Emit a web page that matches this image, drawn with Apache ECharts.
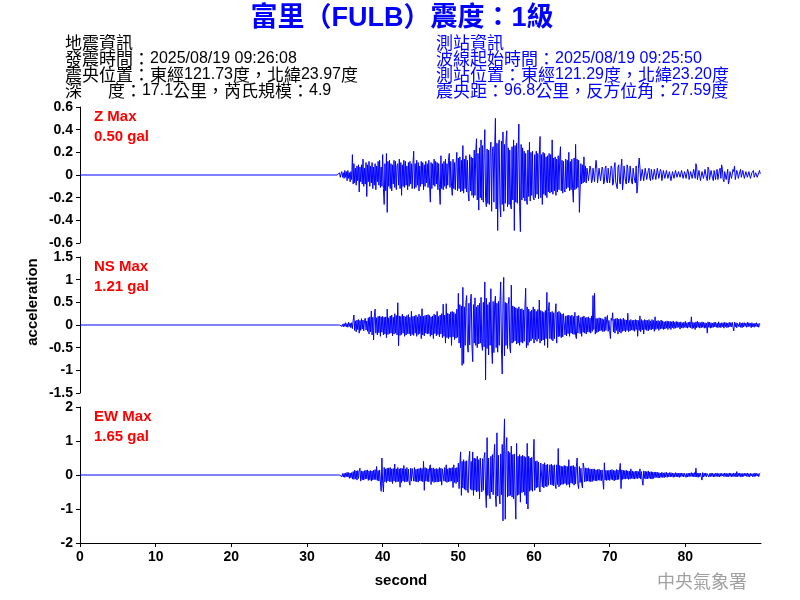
<!DOCTYPE html>
<html><head><meta charset="utf-8">
<script src="https://cdn.jsdelivr.net/npm/echarts@6/dist/echarts.min.js"></script>
<style>html,body{margin:0;padding:0;background:#fff}#c{width:800px;height:600px}</style>
</head><body><div id="c"></div>
<script>
// ---- data ----
const startSecond = 34, sampleStep = 0.1; // samples start at 34 s, one every 0.1 s (one row = 1 s)
const xTickLabels = [0, 10, 20, 30, 40, 50, 60, 70, 80];
const zTicks = [-0.6, -0.4, -0.2, 0, 0.2, 0.4, 0.6];
const nsTicks = [-1.5, -1, -0.5, 0, 0.5, 1, 1.5];
const ewTicks = [-2, -1, 0, 1, 2];
const traceNames = ['Z Max', 'NS Max', 'EW Max'];
const traceMax = ['0.50 gal', '1.21 gal', '1.65 gal'];

const zAcc = [
 0.00, 0.01,-0.01, 0.02,-0.02, 0.01, 0.03,-0.02, 0.02,-0.03,
 0.04,-0.02, 0.03,-0.05, 0.04,-0.03, 0.02,-0.06, 0.03,-0.04,
 0.18,-0.08, 0.10,-0.07, 0.06,-0.09, 0.08,-0.05, 0.09,-0.15,
 0.07,-0.06, 0.09,-0.08, 0.14,-0.10, 0.06,-0.08, 0.11,-0.19,
 0.09,-0.06, 0.12,-0.10, 0.08,-0.07, 0.11,-0.12, 0.07,-0.09,
 0.10,-0.13, 0.08,-0.06, 0.12,-0.09, 0.13,-0.11, 0.07,-0.10,
 0.18,-0.12,-0.26, 0.10,-0.14, 0.19,-0.33, 0.12,-0.10, 0.13,
-0.12, 0.10,-0.14, 0.09,-0.08, 0.13,-0.11, 0.12,-0.13, 0.08,
 0.10,-0.09, 0.14,-0.12, 0.11,-0.18, 0.09,-0.10, 0.13,-0.11,
 0.12,-0.09, 0.08,-0.13, 0.11,-0.10, 0.12,-0.08, 0.10,-0.12,
 0.09, 0.21,-0.12, 0.10,-0.11, 0.13,-0.09, 0.11,-0.14, 0.08,
-0.10, 0.12,-0.08, 0.11,-0.13, 0.09,-0.10, 0.12,-0.07, 0.10,
-0.11, 0.13,-0.09,-0.24, 0.11,-0.12, 0.10,-0.09, 0.14,-0.10,
 0.12,-0.08, 0.11,-0.13, 0.10,-0.11,-0.26, 0.17,-0.12, 0.10,
-0.13, 0.12,-0.10, 0.14,-0.12, 0.10,-0.09, 0.13, 0.19,-0.11,
 0.12,-0.10,-0.18, 0.14,-0.12, 0.11,-0.13, 0.10, 0.20,-0.14,
 0.15,-0.12, 0.16,-0.15, 0.13,-0.14, 0.26,-0.16, 0.14,-0.12,
 0.17,-0.15, 0.13,-0.16,-0.23, 0.18,-0.14, 0.16,-0.18, 0.15,
-0.20, 0.22,-0.18, 0.20, 0.32,-0.22, 0.19,-0.31, 0.24,-0.20,
 0.31,-0.22, 0.26,-0.24, 0.20, 0.40,-0.21,-0.28, 0.23,-0.25,
 0.22,-0.26, 0.20, 0.29,-0.32, 0.21, 0.25,-0.24, 0.22, 0.50,
-0.30, 0.28,-0.49, 0.25, 0.31,-0.27,-0.37, 0.30,-0.26, 0.38,
-0.32, 0.27,-0.25, 0.30, 0.39,-0.28, 0.24,-0.26, 0.22,-0.27,
-0.30, 0.25,-0.22, 0.31,-0.49, 0.26,-0.24, 0.28,-0.25, 0.22,
 0.45,-0.28,-0.50, 0.27,-0.22, 0.24,-0.20, 0.21,-0.23, 0.19,
-0.21,-0.26, 0.22,-0.19, 0.29,-0.23, 0.20,-0.18, 0.21,-0.20,
-0.22, 0.18,-0.20, 0.21,-0.17, 0.19,-0.21, 0.18, 0.34,-0.20,
 0.18,-0.26, 0.20,-0.17, 0.19,-0.18, 0.16,-0.20, 0.17,-0.15,
 0.19,-0.16, 0.18,-0.15, 0.31,-0.17, 0.15,-0.14, 0.16,-0.18,
 0.14,-0.15, 0.17,-0.13, 0.15, 0.25,-0.14, 0.13,-0.16, 0.12,
-0.13,-0.15, 0.14,-0.12, 0.13,-0.11, 0.20,-0.14, 0.12,-0.13,
 0.14,-0.12,-0.24, 0.15,-0.13, 0.27,-0.12, 0.14,-0.11, 0.13,
-0.33,-0.32, 0.10,-0.08, 0.09,-0.07, 0.16,-0.06, 0.08,-0.07,
 0.06, 0.07,-0.05,-0.06, 0.08, 0.05,-0.07,-0.05, 0.06, 0.07,
-0.06, 0.05, 0.13, 0.06,-0.07,-0.08, 0.06, 0.07,-0.05,-0.06,
 0.07, 0.05,-0.08,-0.06, 0.06, 0.08,-0.05,-0.07, 0.06, 0.05,
-0.07,-0.06, 0.08, 0.06,-0.09,-0.07, 0.07, 0.11,-0.06,-0.05,
-0.12, 0.07, 0.09,-0.06,-0.08, 0.07, 0.14,-0.13,-0.06, 0.08,
 0.07,-0.06,-0.08, 0.09, 0.06,-0.07,-0.05, 0.08, 0.07,-0.06,
-0.08, 0.06, 0.07,-0.05,-0.07, 0.08,-0.16,-0.10, 0.06, 0.15,
 0.07,-0.05,-0.06, 0.05, 0.04,-0.05,-0.04, 0.06, 0.05,-0.04,
-0.05, 0.04, 0.06,-0.03,-0.05, 0.05, 0.04,-0.04,-0.03, 0.05,
 0.04,-0.04,-0.05, 0.06, 0.07,-0.03,-0.04, 0.05, 0.03,-0.05,
-0.04, 0.04, 0.05,-0.03,-0.04, 0.04, 0.05,-0.03,-0.04, 0.03,
 0.04,-0.05,-0.04, 0.03, 0.04,-0.03,-0.04, 0.04, 0.03,-0.02,
-0.03, 0.03, 0.04,-0.02,-0.03, 0.04, 0.03,-0.03,-0.02, 0.03,
 0.04,-0.03,-0.04, 0.05, 0.03,-0.04,-0.05, 0.03, 0.04,-0.03,
-0.04, 0.05, 0.04,-0.03, 0.10, 0.07,-0.04,-0.05, 0.04, 0.03,
-0.05,-0.04, 0.03, 0.04,-0.03,-0.04, 0.05, 0.04,-0.03,-0.05,
 0.07, 0.05,-0.04,-0.03, 0.04, 0.05,-0.03,-0.05, 0.04, 0.03,
-0.04, 0.03, 0.05,-0.04,-0.05, 0.04, 0.06,-0.03, 0.09, 0.05,
-0.04,-0.06, 0.03, 0.04,-0.04,-0.03, 0.05,-0.08,-0.05, 0.03,
 0.04,-0.03,-0.04, 0.05, 0.03, 0.08,-0.04,-0.03, 0.04, 0.02,
-0.03,-0.04, 0.03, 0.05,-0.02,-0.03, 0.04, 0.03,-0.03,-0.02,
 0.03, 0.04,-0.02,-0.03, 0.03, 0.02,-0.03,-0.04, 0.02, 0.03,
 0.04,-0.02,-0.03, 0.02, 0.03,-0.02,-0.03, 0.02, 0.04, 0.01
];
const nsAcc = [
 0.00, 0.00, 0.00, 0.00, 0.00, 0.02,-0.03, 0.02,-0.04, 0.03,
-0.03, 0.05,-0.04, 0.03,-0.05, 0.06,-0.03, 0.04,-0.06, 0.05,
-0.08, 0.10, 0.22,-0.12, 0.09,-0.15, 0.11,-0.10, 0.12,-0.18,
 0.10,-0.12, 0.14,-0.09, 0.11,-0.13, 0.10, 0.15,-0.11, 0.09,
-0.14, 0.16,-0.20, 0.18,-0.15, 0.31,-0.22, 0.17,-0.33, 0.20,
 0.35,-0.18, 0.16,-0.22, 0.19,-0.17, 0.20,-0.25, 0.18,-0.16,
 0.19,-0.22, 0.17,-0.20, 0.18,-0.28, 0.35,-0.21, 0.16,-0.19,
 0.20,-0.18, 0.22,-0.24, 0.17,-0.20, 0.25,-0.18, 0.21,-0.22,
 0.49,-0.46, 0.20,-0.23, 0.19,-0.21, 0.24,-0.18, 0.20,-0.25,
 0.18,-0.22, 0.21,-0.19, 0.23,-0.20, 0.17,-0.24, 0.30,-0.21,
 0.19,-0.23, 0.20,-0.18, 0.22,-0.25, 0.18,-0.21, 0.24,-0.19,
 0.20,-0.30, 0.36,-0.22, 0.19,-0.24, 0.21,-0.18, 0.22,-0.20,
 0.23,-0.19, 0.21,-0.25, 0.18,-0.22, 0.20,-0.30, 0.24,-0.19,
 0.22,-0.24, 0.30,-0.21, 0.19,-0.26, 0.22,-0.20, 0.25,-0.28,
 0.46,-0.25, 0.22,-0.40, 0.47,-0.28, 0.26,-0.30, 0.24,-0.27,
 0.29,-0.45, 0.30,-0.26, 0.28,-0.32, 0.25,-0.29, 0.35,-0.27,
 0.70,-0.40, 0.45,-0.50, 0.42,-0.89, 0.83,-0.85, 0.40,-0.45,
 0.50, 0.65,-0.42,-0.60, 0.48,-0.44, 0.52, 0.68,-0.46,-0.81,
 0.45,-0.40, 0.60,-0.45, 0.40,-0.50, 0.44,-0.42, 0.48,-0.40,
 0.61,-0.45,-0.56, 0.50,-0.48, 0.95,-1.21, 0.59,-0.52, 0.45,
-0.66, 0.50,-0.45, 0.80,-0.48,-0.85, 0.52,-0.61, 0.46, 0.64,
-0.50, 0.48,-0.60, 0.52,-0.45, 0.50, 0.95,-0.55,-1.08, 0.48,
 1.05,-0.68, 0.50,-0.45, 0.48,-0.52, 0.45, 0.61,-0.50,-0.62,
 0.88,-0.40, 0.42,-0.38, 0.40,-0.35, 0.38,-0.42, 0.36,-0.40,
 0.40,-0.45, 0.35,-0.38, 0.36,-0.40, 0.33,-0.36, 0.38, 0.81,
-0.50, 0.40,-0.45, 0.35,-0.38, 0.30,-0.35, 0.33,-0.30, 0.40,
-0.40, 0.35,-0.32, 0.30,-0.36, 0.34,-0.30, 0.55,-0.40, 0.32,
-0.35, 0.30,-0.33, 0.28,-0.45, 0.32,-0.30, 0.72,-0.50, 0.30,
 0.50,-0.30, 0.28,-0.32, 0.30,-0.35, 0.27,-0.30, 0.26, 0.47,
-0.40, 0.28,-0.26, 0.30,-0.25, 0.27,-0.28, 0.24,-0.26, 0.25,
 0.25,-0.22, 0.20,-0.24, 0.21,-0.19, 0.22,-0.25, 0.20,-0.18,
 0.22,-0.20, 0.19,-0.21, 0.28,-0.23,-0.30, 0.20,-0.18, 0.21,
 0.20,-0.19, 0.17,-0.25, 0.18,-0.16, 0.20,-0.18, 0.16,-0.20,
 0.17,-0.15, 0.18,-0.16, 0.15,-0.18, 0.20,-0.14, 0.65,-0.10,
 0.70,-0.20, 0.15,-0.17, 0.14,-0.15, 0.16,-0.13, 0.15,-0.12,
 0.14,-0.15, 0.12,-0.14, 0.18,-0.12, 0.13, 0.21,-0.14, 0.10,
-0.12,-0.30, 0.15, 0.10, 0.27,-0.15, 0.13,-0.18, 0.14,-0.12,
 0.15,-0.20, 0.13,-0.15, 0.14,-0.18, 0.12,-0.14, 0.15,-0.13,
 0.12,-0.15, 0.11,-0.12, 0.26,-0.15, 0.10,-0.13, 0.12,-0.11,
 0.10,-0.12, 0.11,-0.14, 0.12,-0.10, 0.11,-0.25, 0.10,-0.12,
 0.20,-0.15, 0.12,-0.11, 0.10,-0.20, 0.12,-0.10, 0.11,-0.12,
 0.10,-0.13, 0.12,-0.10, 0.09,-0.11, 0.12,-0.09, 0.10,-0.14,
 0.18,-0.10, 0.09,-0.08, 0.10,-0.12, 0.08,-0.09, 0.11,-0.08,
 0.09,-0.10, 0.07,-0.09, 0.08,-0.07, 0.09,-0.10, 0.08,-0.07,
 0.08,-0.10, 0.07,-0.06, 0.09,-0.08, 0.06,-0.07, 0.08,-0.06,
 0.07,-0.05, 0.06,-0.09, 0.07,-0.06, 0.05,-0.07, 0.06,-0.05,
 0.08,-0.06, 0.05,-0.07, 0.06,-0.05, 0.07,-0.06, 0.18,-0.08,
 0.06,-0.07, 0.05,-0.10, 0.07,-0.06, 0.08,-0.05, 0.06,-0.07,
 0.05,-0.06, 0.07,-0.05, 0.06,-0.07, 0.05,-0.06, 0.04,-0.18,
 0.07,-0.05, 0.06,-0.07, 0.05,-0.06, 0.04,-0.05, 0.06,-0.04,
 0.06,-0.05, 0.04,-0.06, 0.07,-0.05, 0.04,-0.06, 0.05,-0.04,
 0.05,-0.07, 0.06,-0.04, 0.05,-0.06, 0.04,-0.05, 0.06,-0.04,
 0.05,-0.04, 0.06,-0.05,-0.13, 0.06,-0.04, 0.05,-0.06, 0.04,
 0.05,-0.04, 0.06,-0.05, 0.04,-0.06, 0.05,-0.04, 0.05,-0.03,
 0.04,-0.05, 0.06,-0.04, 0.05,-0.03, 0.04,-0.06, 0.05,-0.04,
 0.03,-0.05, 0.04,-0.03, 0.05,-0.04, 0.03,-0.05, 0.03, 0.02
];
const ewAcc = [
 0.00, 0.00, 0.00, 0.00, 0.00, 0.03,-0.05, 0.04,-0.06, 0.05,
-0.07, 0.06,-0.05, 0.08,-0.06, 0.07,-0.10, 0.06,-0.08, 0.07,
-0.12, 0.10,-0.13, 0.14,-0.11, 0.12,-0.15, 0.13,-0.10, 0.12,
 0.20,-0.18, 0.12,-0.14, 0.11,-0.15, 0.13,-0.12, 0.14,-0.11,
 0.15,-0.16, 0.12,-0.14, 0.13,-0.18, 0.12,-0.15, 0.14,-0.13,
 0.16,-0.14, 0.25,-0.16, 0.13,-0.18, 0.15,-0.20,-0.48, 0.50,
-0.25,-0.50, 0.22,-0.20, 0.18,-0.22, 0.20,-0.18, 0.21,-0.19,
 0.22,-0.20, 0.18,-0.25, 0.19,-0.18, 0.32,-0.21, 0.18,-0.20,
 0.22,-0.19, 0.18,-0.36, 0.20,-0.22, 0.19,-0.18, 0.28,-0.21,
 0.18,-0.20, 0.22,-0.19, 0.17,-0.21,-0.30, 0.20,-0.18, 0.19,
 0.20,-0.18, 0.22,-0.19, 0.17,-0.20, 0.18,-0.21, 0.19,-0.17,
 0.21,-0.18, 0.19,-0.20, 0.40,-0.45, 0.22,-0.18, 0.20,-0.19,
 0.18,-0.20, 0.22, 0.30,-0.28, 0.20,-0.19, 0.21,-0.22, 0.18,
-0.20, 0.19,-0.21, 0.18,-0.20, 0.22,-0.19, 0.20,-0.30, 0.18,
 0.20,-0.18, 0.22,-0.19, 0.30,-0.22, 0.18,-0.20, 0.21,-0.19,
 0.20,-0.18, 0.22,-0.37, 0.30,-0.22, 0.20,-0.25, 0.22,-0.20,
 0.35,-0.40, 0.30, 0.68,-0.60, 0.40,-0.38, 0.45,-0.42, 0.40,
-0.45, 0.42,-0.40,-0.52, 0.45, 0.70,-0.42, 0.40,-0.45, 0.68,
-0.60, 0.50,-0.45, 0.48,-0.50, 0.55,-0.48, 0.45,-0.70, 0.50,
 0.45,-0.50, 0.48,-0.45, 0.52, 0.66,-0.50,-0.96, 1.10,-0.60,
 0.50,-0.55,-0.70, 0.55,-0.50, 0.60,-0.58, 0.52, 0.90,-0.60,
-0.93, 1.24,-0.62, 0.58,-0.60,-0.85, 0.62,-0.58, 0.90,-1.35,
 0.80, 1.65,-1.30, 0.70, 1.10,-0.65, 0.70,-0.62, 0.66,-0.60,
 0.85,-0.65, 0.60,-0.70, 0.62,-0.58,-1.30, 0.93,-0.60, 0.55,
-0.58, 0.60,-0.80, 0.55,-0.52, 0.58,-0.50, 0.55,-0.60, 0.52,
-0.85, 0.93,-1.00, 0.55,-0.48, 0.50,-0.45, 0.52,-0.48, 0.45,
 1.05,-0.45, 0.40,-0.38, 0.42,-0.36, 0.38,-0.40,-0.50, 0.35,
 0.38,-0.35, 0.32,-0.38, 0.36,-0.33, 0.30,-0.35, 0.32,-0.30,
-0.35, 0.30,-0.28, 0.32,-0.30, 0.28,-0.32, 0.30,-0.27,-0.40,
 0.30,-0.28, 0.78,-0.35, 0.28,-0.30, 0.26,-0.28, 0.25,-0.27,
 0.28,-0.25, 0.27,-0.30, 0.25,-0.28, 0.45,-0.36, 0.26,-0.24,
 0.27,-0.25, 0.28,-0.30, 0.24,-0.26, 0.25, 0.50,-0.28,-0.40,
 0.25,-0.22, 0.20,-0.24,-0.38, 0.35, 0.22,-0.20, 0.21,-0.19,
 0.20,-0.18, 0.21,-0.19, 0.18,-0.20, 0.17,-0.19, 0.18,-0.16,
 0.18,-0.17, 0.15,-0.18, 0.16,-0.15, 0.17,-0.16, 0.14,-0.17,
 0.15,-0.16,-0.42, 0.36,-0.15, 0.14,-0.16, 0.13,-0.15, 0.14,
-0.16, 0.15,-0.13, 0.16,-0.15, 0.14,-0.17, 0.13,-0.15, 0.16,
-0.14, 0.15,-0.13, 0.12, 0.34,-0.40, 0.15,-0.13, 0.14,-0.12,
 0.13,-0.12, 0.14,-0.11, 0.12,-0.13, 0.11,-0.12, 0.18,-0.10,
 0.12,-0.11, 0.10,-0.12, 0.11,-0.10, 0.12,-0.11, 0.10,-0.09,
 0.18,-0.12, 0.10,-0.15,-0.30, 0.12,-0.10, 0.11,-0.12, 0.10,
-0.11, 0.12,-0.10, 0.09,-0.11, 0.10,-0.12, 0.09,-0.10, 0.08,
-0.08, 0.09,-0.07, 0.08,-0.09, 0.07,-0.08, 0.06,-0.07, 0.08,
-0.07, 0.06,-0.08, 0.07,-0.06, 0.08,-0.07, 0.06,-0.05, 0.07,
-0.06, 0.07,-0.05, 0.06,-0.07, 0.05,-0.06, 0.07,-0.05, 0.06,
-0.06, 0.05,-0.07, 0.06,-0.05, 0.06,-0.04, 0.05,-0.06, 0.05,
 0.06,-0.07, 0.05,-0.06, 0.05,-0.05, 0.06,-0.04, 0.07,-0.05,
 0.06,-0.05, 0.07,-0.06, 0.20,-0.06, 0.05,-0.07, 0.06,-0.05,
 0.06,-0.05,-0.15, 0.07,-0.06, 0.05,-0.04, 0.06,-0.05, 0.04,
 0.05,-0.06, 0.04,-0.05, 0.06,-0.04, 0.05,-0.06, 0.04,-0.05,
 0.05,-0.04, 0.06,-0.05, 0.04,-0.06, 0.05,-0.04, 0.05,-0.03,
 0.04,-0.05, 0.06,-0.04, 0.05,-0.06, 0.04,-0.05, 0.06,-0.04,
 0.05,-0.06, 0.04,-0.05, 0.06,-0.04, 0.05,-0.06, 0.10,-0.05,
 0.05,-0.04, 0.06,-0.05, 0.04,-0.06, 0.05,-0.04, 0.05,-0.03,
 0.05,-0.04, 0.06,-0.05, 0.04,-0.06, 0.05,-0.03, 0.04,-0.05,
 0.04,-0.05, 0.06,-0.04, 0.05,-0.03, 0.04,-0.05, 0.04, 0.06
];

// ---- chart ----
const LATIN = "'Liberation Sans', Arial, sans-serif";
const FONT = "'Liberation Sans', Arial, 'Noto Sans CJK TC', sans-serif";
const CJK = "'Noto Sans CJK TC', sans-serif";
const toSeries = arr => [[0, 0]].concat(arr.map((v, i) => [+(startSecond + i * sampleStep).toFixed(2), v]));
const traces = [zAcc, nsAcc, ewAcc];
const yTickSets = [zTicks, nsTicks, ewTicks];
const gridTops = [107, 257, 407];

const chart = echarts.init(document.getElementById('c'), null, {renderer: 'canvas'});
const grid = gridTops.map(t => ({left: 80, right: 39, top: t, height: 136, containLabel: false, outerBoundsMode: 'none'}));
const xAxis = [0, 1, 2].map(i => ({
  type: 'value', gridIndex: i, min: 0, max: 90, interval: 10,
  show: i === 2,
  axisLine: {show: true, onZero: false, lineStyle: {color: '#000', width: 1}},
  axisTick: {show: true, length: 4, lineStyle: {color: '#000'}, customValues: xTickLabels},
  axisLabel: {show: true, customValues: xTickLabels, color: '#000', fontFamily: FONT, fontWeight: 'bold', fontSize: 14, margin: 7},
  splitLine: {show: false}
}));
const yAxis = [0, 1, 2].map(i => {
  const ticks = yTickSets[i];
  return {
    type: 'value', gridIndex: i, min: ticks[0], max: ticks[ticks.length - 1],
    interval: +(ticks[1] - ticks[0]).toFixed(2),
    axisLine: {show: true, lineStyle: {color: '#000', width: 1}},
    axisTick: {show: true, length: 4, lineStyle: {color: '#000'}},
    axisLabel: {color: '#000', fontFamily: FONT, fontWeight: 'bold', fontSize: 14, margin: 7,
      formatter: v => String(+(+v).toFixed(2))},
    splitLine: {show: false}
  };
});
const series = traces.map((arr, i) => ({
  type: 'line', xAxisIndex: i, yAxisIndex: i, data: toSeries(arr),
  showSymbol: false, symbol: 'none', sampling: null,
  lineStyle: {color: '#0000ff', width: 1}, animation: false, silent: true
}));

// CJK runs use a CJK font, the other runs an Arial-like font
const CJK_RE = /([\u3000-\u303f\u4e00-\u9fff\uff00-\uffef]+)/;
const richify = s => s.split(CJK_RE).filter(p => p.length)
  .map(p => CJK_RE.test(p) ? '{c|' + p + '}' : '{n|' + p + '}').join('');
const info = (x, y, text, color) => ({type: 'text', x, y, style: {
  text: richify(text), fill: color, fontSize: 16, fontFamily: LATIN, verticalAlign: 'middle', align: 'left',
  rich: {
    c: {fill: color, fontFamily: CJK, fontSize: 17, fontWeight: 'normal', verticalAlign: 'middle', lineHeight: 16},
    n: {fill: color, fontFamily: LATIN, fontSize: 16, fontWeight: 'normal', verticalAlign: 'middle', lineHeight: 16}
  }
}});
const graphic = [
  {type: 'text', x: 402, y: 19, style: {text: '富里（FULB）震度：1級', fill: '#0000ff', font: 'bold 27px ' + FONT, align: 'center', verticalAlign: 'middle'}},
  info(65, 43, '地震資訊', '#000'),
  info(65, 59, '發震時間：2025/08/19 09:26:08', '#000'),
  info(65, 75, '震央位置：東經121.73度，北緯23.97度', '#000'),
  info(65, 91, '深\u3000  度：17.1公里，芮氏規模：4.9', '#000'),
  info(436, 43, '測站資訊', '#0000ff'),
  info(436, 59, '波線起始時間：2025/08/19 09:25:50', '#0000ff'),
  info(436, 75, '測站位置：東經121.29度，北緯23.20度', '#0000ff'),
  info(436, 91, '震央距：96.8公里，反方位角：27.59度', '#0000ff'),
  {type: 'text', x: 33, y: 302, rotation: Math.PI / 2, style: {text: 'acceleration', fill: '#000', font: 'bold 15px ' + FONT, align: 'center', verticalAlign: 'middle'}},
  {type: 'text', x: 401, y: 581, style: {text: 'second', fill: '#000', font: 'bold 15px ' + FONT, align: 'center', verticalAlign: 'middle'}},
  {type: 'text', x: 747, y: 581, style: {text: '中央氣象署', fill: '#a0a0a0', font: '18px ' + CJK, align: 'right', verticalAlign: 'middle'}}
];
gridTops.forEach((t, i) => {
  graphic.push({type: 'text', x: 94, y: t + 10, style: {text: traceNames[i], fill: '#ff0000', font: 'bold 15px ' + FONT, verticalAlign: 'middle'}});
  graphic.push({type: 'text', x: 94, y: t + 30, style: {text: traceMax[i], fill: '#ff0000', font: 'bold 15px ' + FONT, verticalAlign: 'middle'}});
});

chart.setOption({animation: false, grid, xAxis, yAxis, series, graphic});
</script>
</body></html>
